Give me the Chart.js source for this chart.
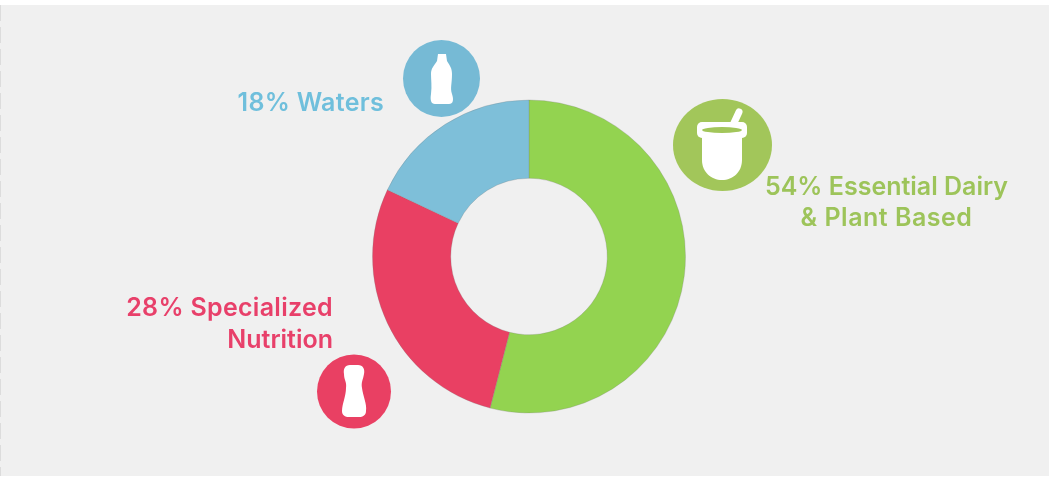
<!DOCTYPE html>
<html>
<head>
<meta charset="utf-8">
<script src="https://cdn.jsdelivr.net/npm/chart.js@4"></script>
<style>
  html, body { margin: 0; padding: 0; background: #fff; overflow: hidden; }
  #panel { position: absolute; left: 0; top: 5px; width: 1049px; height: 471px; background: #f0f0f0; }
  #edge { position: absolute; left: 0; top: 5px; width: 1px; height: 471px;
    background: repeating-linear-gradient(#dcdcdc 0 16px, transparent 16px 22px); }
  canvas { position: absolute; left: 0; top: 0; }
</style>
</head>
<body>
<div id="panel"></div>
<div id="edge"></div>
<canvas id="shareChart" width="1049" height="477"></canvas>
<script>
const categories = ["Essential Dairy & Plant Based", "Specialized Nutrition", "Waters"];
const shares = [54, 28, 18];
const sliceColors = ["#93d350", "#e94063", "#7ebfd9"];

// text lines next to the ring, x is the anchor for textAlign
const labelFont = '600 25px Inter';
const labelLines = [
  { text: "54% Essential Dairy", x: 886.5, y: 186, align: "center", color: "#9dc45a", gap: "0px" },
  { text: "& Plant Based", x: 886.5, y: 217, align: "center", color: "#9dc45a", gap: "0.5px" },
  { text: "28% Specialized", x: 333, y: 307, align: "right", color: "#e8406a", gap: "0.3px" },
  { text: "Nutrition", x: 333, y: 339, align: "right", color: "#e8406a", gap: "0px" },
  { text: "18% Waters", x: 384, y: 102, align: "right", color: "#6fbfdc", gap: "0.3px" }
];

function drawBlueIcon(ctx) {
  ctx.save();
  ctx.beginPath();
  ctx.rect(395, 35, 85, 90);
  ctx.clip();
  ctx.fillStyle = "#76bad5";
  ctx.beginPath();
  ctx.arc(441.5, 78.5, 38.5, 0, Math.PI * 2);
  ctx.fill();
  ctx.restore();
  ctx.fillStyle = "#fff";
  ctx.beginPath();
  ctx.moveTo(438, 54);
  ctx.lineTo(446, 54);
  ctx.lineTo(447, 61);
  ctx.bezierCurveTo(450, 66, 452, 68, 452, 74);
  ctx.bezierCurveTo(452, 84, 450, 88, 452, 94);
  ctx.bezierCurveTo(454, 100, 453, 104, 449, 104);
  ctx.lineTo(435, 104);
  ctx.bezierCurveTo(431, 104, 430, 100, 431, 94);
  ctx.bezierCurveTo(432, 86, 431, 80, 431, 74);
  ctx.bezierCurveTo(431, 68, 434, 66, 437, 61);
  ctx.closePath();
  ctx.fill();
}

function drawGreenIcon(ctx) {
  ctx.fillStyle = "#a2c65a";
  ctx.beginPath();
  ctx.ellipse(722.5, 145, 49.5, 46, 0, 0, Math.PI * 2);
  ctx.fill();
  ctx.strokeStyle = "#fff";
  ctx.lineCap = "round";
  ctx.lineWidth = 7;
  ctx.beginPath();
  ctx.moveTo(733, 125);
  ctx.lineTo(739, 112);
  ctx.stroke();
  ctx.fillStyle = "#fff";
  ctx.beginPath();
  ctx.roundRect(697, 122, 50, 16, 5);
  ctx.fill();
  ctx.beginPath();
  ctx.moveTo(702, 134);
  ctx.lineTo(742, 134);
  ctx.lineTo(742, 160);
  ctx.bezierCurveTo(742, 172, 733, 180, 722, 180);
  ctx.bezierCurveTo(711, 180, 702, 172, 702, 160);
  ctx.closePath();
  ctx.fill();
  ctx.fillStyle = "#a2c65a";
  ctx.beginPath();
  ctx.ellipse(722, 130, 20, 3, 0, 0, Math.PI * 2);
  ctx.fill();
}

function drawRedIcon(ctx) {
  ctx.fillStyle = "#e94063";
  ctx.beginPath();
  ctx.arc(354, 391.5, 37, 0, Math.PI * 2);
  ctx.fill();
  ctx.fillStyle = "#fff";
  ctx.beginPath();
  ctx.moveTo(350, 365);
  ctx.lineTo(358, 365);
  ctx.bezierCurveTo(363, 365, 365, 369, 364, 374);
  ctx.bezierCurveTo(363, 380, 361, 382, 362, 388);
  ctx.bezierCurveTo(363, 396, 367, 404, 366, 411);
  ctx.bezierCurveTo(366, 415, 363, 417, 359, 417);
  ctx.lineTo(349, 417);
  ctx.bezierCurveTo(345, 417, 342, 415, 342, 411);
  ctx.bezierCurveTo(342, 404, 346, 396, 346, 388);
  ctx.bezierCurveTo(347, 382, 344, 380, 344, 374);
  ctx.bezierCurveTo(343, 369, 345, 365, 350, 365);
  ctx.closePath();
  ctx.fill();
}

const sideNotes = {
  id: "sideNotes",
  afterDraw(chart) {
    const ctx = chart.ctx;
    ctx.save();
    drawBlueIcon(ctx);
    drawGreenIcon(ctx);
    drawRedIcon(ctx);
    ctx.font = labelFont;
    ctx.textBaseline = "alphabetic";
    labelLines.forEach(l => {
      ctx.fillStyle = l.color;
      ctx.textAlign = l.align;
      ctx.letterSpacing = l.gap;
      ctx.fillText(l.text, l.x, l.y + 9);
    });
    ctx.restore();
  }
};

new Chart(document.getElementById("shareChart").getContext("2d"), {
  type: "doughnut",
  data: {
    labels: categories,
    datasets: [{
      data: shares,
      backgroundColor: sliceColors,
      borderColor: "rgba(120,120,120,0.25)",
      borderWidth: 1,
      hoverOffset: 0
    }]
  },
  options: {
    responsive: false,
    animation: false,
    cutout: "50%",
    layout: { padding: { left: 372, right: 363, top: 99.5, bottom: 63.5 } },
    plugins: {
      legend: { display: false },
      tooltip: { enabled: false }
    }
  },
  plugins: [sideNotes]
});
</script>
</body>
</html>
